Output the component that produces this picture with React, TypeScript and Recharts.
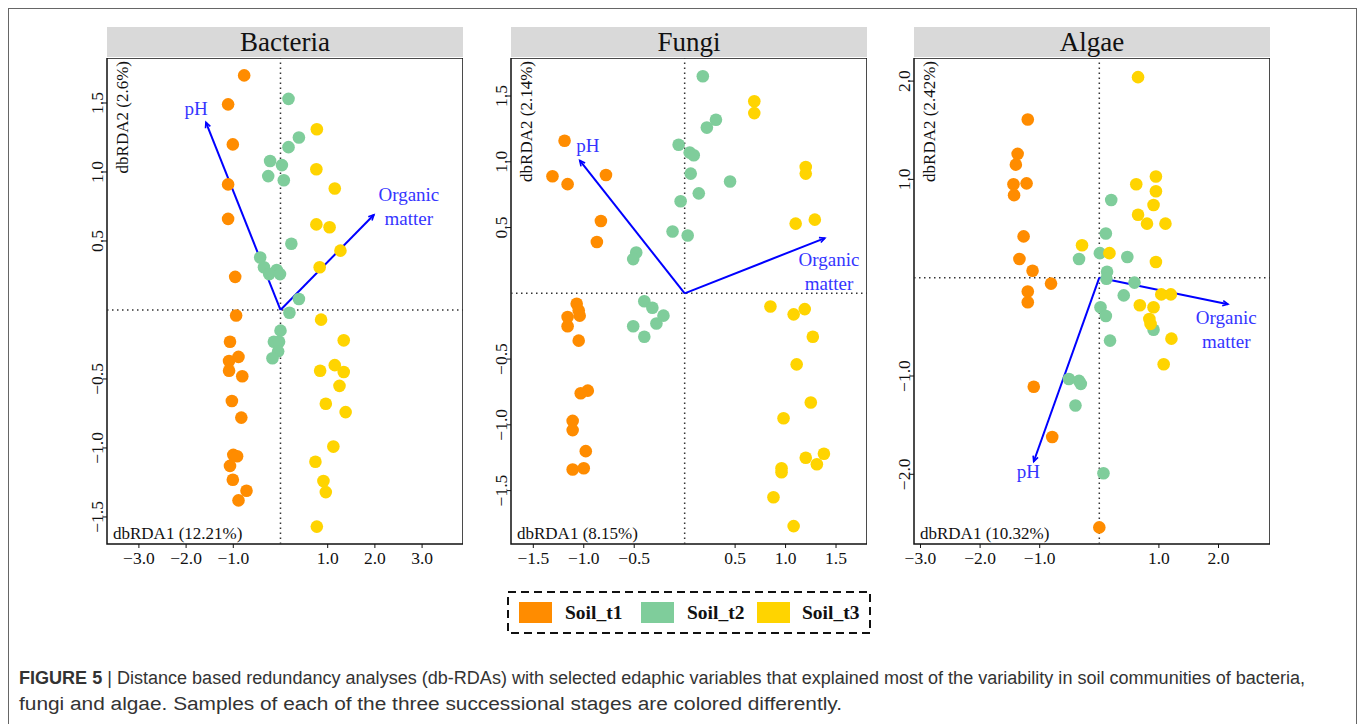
import { ScatterChart, Scatter, XAxis, YAxis, ReferenceLine, ReferenceArea } from 'recharts'

type Pt = [number, number]

const serif = '"Liberation Serif", "Times New Roman", serif'
const sans = '"Liberation Sans", Arial, sans-serif'

const groups = ['Soil_t1', 'Soil_t2', 'Soil_t3']
const groupColors = ['#FF8C00', '#7FCD9B', '#FFD400']

// Bacteria
const bacteriaT1: Pt[] = [
  [-0.77, 1.7], [-1.11, 1.49], [-1.01, 1.2], [-1.11, 0.91], [-1.11, 0.66], [-0.96, 0.24], [-0.94, -0.04],
  [-1.07, -0.23], [-0.89, -0.34], [-1.09, -0.37], [-1.09, -0.44], [-0.81, -0.48], [-1.03, -0.66], [-0.83, -0.78],
  [-1.0, -1.05], [-0.92, -1.06], [-1.07, -1.13], [-1.01, -1.23], [-0.72, -1.31], [-0.89, -1.38],
]
const bacteriaT2: Pt[] = [
  [0.17, 1.53], [0.39, 1.25], [0.17, 1.18], [-0.22, 1.08], [0.03, 1.05], [-0.26, 0.97], [0.07, 0.94],
  [0.23, 0.48], [-0.43, 0.38], [-0.35, 0.31], [-0.08, 0.29], [-0.24, 0.26], [-0.01, 0.26], [0.39, 0.08],
  [0.19, -0.02], [0.0, -0.15], [-0.14, -0.23], [-0.03, -0.23], [-0.05, -0.3], [-0.17, -0.35],
]
const bacteriaT3: Pt[] = [
  [0.77, 1.31], [0.76, 1.02], [1.15, 0.88], [0.76, 0.62], [1.04, 0.6], [1.27, 0.43], [0.83, 0.31],
  [0.86, -0.07], [1.34, -0.22], [1.15, -0.4], [1.34, -0.45], [0.84, -0.44], [1.25, -0.55], [0.96, -0.68],
  [1.38, -0.74], [1.12, -0.99], [0.74, -1.1], [0.91, -1.24], [0.96, -1.32], [0.77, -1.57],
]
const bacteriaArrows = [
  { name: 'pH', x: -1.58, y: 1.36 },
  { name: 'Organic matter', x: 1.98, y: 0.69 },
]
const bacteriaArrowText = [
  { lines: ['pH'], x: -1.79, y: 1.46 },
  { lines: ['Organic', 'matter'], x: 2.72, y: 0.83 },
]

// Fungi
const fungiT1: Pt[] = [
  [-1.19, 1.16], [-1.31, 0.89], [-1.16, 0.83], [-0.78, 0.9], [-0.83, 0.55], [-0.87, 0.39], [-1.07, -0.08],
  [-1.05, -0.13], [-1.04, -0.17], [-1.16, -0.18], [-1.16, -0.25], [-1.05, -0.36], [-0.96, -0.74], [-1.03, -0.76],
  [-1.11, -0.97], [-1.11, -1.04], [-0.98, -1.2], [-1.11, -1.34], [-1.0, -1.33],
]
const fungiT2: Pt[] = [
  [0.18, 1.65], [0.31, 1.32], [0.22, 1.26], [-0.06, 1.13], [0.05, 1.07], [0.09, 1.05], [0.06, 0.91],
  [0.45, 0.85], [0.14, 0.76], [-0.04, 0.7], [-0.12, 0.47], [0.03, 0.44], [-0.48, 0.31], [-0.51, 0.26],
  [-0.4, -0.06], [-0.32, -0.11], [-0.21, -0.17], [-0.28, -0.23], [-0.51, -0.25], [-0.4, -0.33],
]
const fungiT3: Pt[] = [
  [0.69, 1.46], [0.69, 1.37], [1.2, 0.96], [1.2, 0.91], [1.29, 0.56], [1.1, 0.53], [0.85, -0.1],
  [1.19, -0.12], [1.08, -0.16], [1.27, -0.33], [1.11, -0.54], [1.25, -0.83], [0.98, -0.95], [1.38, -1.22],
  [1.2, -1.25], [1.31, -1.3], [0.96, -1.33], [0.96, -1.36], [0.88, -1.55], [1.08, -1.77],
]
const fungiArrows = [
  { name: 'pH', x: -1.04, y: 1.01 },
  { name: 'Organic matter', x: 1.39, y: 0.42 },
]
const fungiArrowText = [
  { lines: ['pH'], x: -0.96, y: 1.12 },
  { lines: ['Organic', 'matter'], x: 1.43, y: 0.25 },
]

// Algae
const algaeT1: Pt[] = [
  [-1.2, 1.61], [-1.37, 1.26], [-1.4, 1.15], [-1.44, 0.95], [-1.22, 0.96], [-1.43, 0.84], [-1.27, 0.42],
  [-1.34, 0.19], [-1.12, 0.07], [-0.81, -0.06], [-1.2, -0.14], [-1.2, -0.25], [-1.1, -1.11], [-0.79, -1.62],
  [0.0, -2.54],
]
const algaeT2: Pt[] = [
  [0.2, 0.79], [0.11, 0.45], [-0.34, 0.19], [0.01, 0.25], [0.47, 0.21], [0.13, 0.06], [0.12, -0.01],
  [0.59, -0.05], [0.41, -0.18], [0.02, -0.3], [0.11, -0.39], [0.91, -0.53], [0.18, -0.64], [-0.51, -1.03],
  [-0.34, -1.05], [-0.31, -1.08], [-0.4, -1.3], [0.07, -1.99],
]
const algaeT3: Pt[] = [
  [0.65, 2.04], [0.95, 1.03], [0.62, 0.95], [0.95, 0.88], [0.91, 0.74], [0.65, 0.64], [0.8, 0.55],
  [1.11, 0.55], [-0.29, 0.33], [0.17, 0.25], [0.95, 0.16], [1.04, -0.17], [1.2, -0.17], [0.68, -0.28],
  [0.91, -0.3], [0.84, -0.42], [0.86, -0.47], [1.21, -0.62], [1.08, -0.88],
]
const algaeArrows = [
  { name: 'pH', x: -1.1, y: -1.87 },
  { name: 'Organic matter', x: 2.16, y: -0.27 },
]
const algaeArrowText = [
  { lines: ['pH'], x: -1.19, y: -1.98 },
  { lines: ['Organic', 'matter'], x: 2.13, y: -0.41 },
]

const ticks15 = [-1.5, -1, -0.5, 0.5, 1, 1.5]
const ticks3 = [-3, -2, -1, 1, 2, 3]
const algaeXTicks = [-3, -2, -1, 1, 2]
const algaeYTicks = [-2, -1, 1, 2]

const panels = [
  {
    title: 'Bacteria', left: 107, right: 463,
    xDomain: [-3.676, 3.867], yDomain: [-1.696, 1.826], xTicks: ticks3, yTicks: ticks15,
    xLabel: 'dbRDA1 (12.21%)', yLabel: 'dbRDA2 (2.6%)',
    sets: [bacteriaT1, bacteriaT2, bacteriaT3], arrows: bacteriaArrows, arrowText: bacteriaArrowText,
  },
  {
    title: 'Fungi', left: 511, right: 867,
    xDomain: [-1.721, 1.807], yDomain: [-1.906, 1.789], xTicks: ticks15, yTicks: ticks15,
    xLabel: 'dbRDA1 (8.15%)', yLabel: 'dbRDA2 (2.14%)',
    sets: [fungiT1, fungiT2, fungiT3], arrows: fungiArrows, arrowText: fungiArrowText,
  },
  {
    title: 'Algae', left: 914, right: 1270,
    xDomain: [-3.109, 2.864], yDomain: [-2.709, 2.235], xTicks: algaeXTicks, yTicks: algaeYTicks,
    xLabel: 'dbRDA1 (10.32%)', yLabel: 'dbRDA2 (2.42%)',
    sets: [algaeT1, algaeT2, algaeT3], arrows: algaeArrows, arrowText: algaeArrowText,
  },
]

const PLOT_TOP = 58
const PLOT_H = 486
const YW = 30
const XH = 30

const fmt = (v: number) => (v < 0 ? '\u2212' + Math.abs(v).toFixed(1) : v.toFixed(1))

const XTick = ({ x, y, payload }: any) => (
  <text x={x} y={y + 16} textAnchor="middle" fontSize={17.5} fontFamily={serif} fill="#111">
    {fmt(payload.value)}
  </text>
)

const YTick = ({ x, y, payload }: any) => (
  <text x={x} y={y} transform={`rotate(-90 ${x} ${y})`} textAnchor="middle" fontSize={17.5} fontFamily={serif} fill="#111">
    {fmt(payload.value)}
  </text>
)

const Dot = (color: string) => (p: any) => <circle cx={p.cx} cy={p.cy} r={6.3} fill={color} />

const ArrowLine = (p: any) => {
  const { x1, y1, x2, y2 } = p
  const ang = Math.atan2(y2 - y1, x2 - x1)
  const h = 6
  const a = Math.PI / 7
  const l = [x2 - h * Math.cos(ang - a), y2 - h * Math.sin(ang - a)]
  const r = [x2 - h * Math.cos(ang + a), y2 - h * Math.sin(ang + a)]
  return (
    <g>
      <line x1={x1} y1={y1} x2={x2} y2={y2} stroke="#0000FF" strokeWidth={2} />
      <polyline points={`${l[0]},${l[1]} ${x2},${y2} ${r[0]},${r[1]}`} fill="none" stroke="#0000FF" strokeWidth={1.6} />
    </g>
  )
}

const ArrowText = (p: any) => (
  <text x={p.cx} y={p.cy} textAnchor="middle" fontSize={19} fontFamily={serif} fill="#3535FF">
    {p.payload.lines.map((s: string, i: number) => (
      <tspan key={s} x={p.cx} dy={i === 0 ? 6 : 24}>
        {s}
      </tspan>
    ))}
  </text>
)

const Panel = ({ cfg }: { cfg: (typeof panels)[number] }) => {
  const w = cfg.right - cfg.left
  return (
    <>
      <div
        style={{
          position: 'absolute', left: cfg.left, top: 27, width: w, height: 30,
          background: '#D9D9D9', textAlign: 'center', fontFamily: serif, fontSize: 27, lineHeight: '31px', color: '#111',
        }}
      >
        {cfg.title}
      </div>
      <div style={{ position: 'absolute', left: cfg.left - YW, top: PLOT_TOP }}>
        <ScatterChart width={w + YW} height={PLOT_H + XH} margin={{ top: 0, right: 0, bottom: 0, left: 0 }}>
          <XAxis
            type="number" dataKey="x" domain={cfg.xDomain} allowDataOverflow ticks={cfg.xTicks} interval={0}
            height={XH} axisLine={false} tickSize={4} tickMargin={0} tickLine={{ stroke: '#111' }} tick={<XTick />}
          />
          <YAxis
            type="number" dataKey="y" domain={cfg.yDomain} allowDataOverflow ticks={cfg.yTicks} interval={0}
            width={YW} axisLine={false} tickSize={4} tickMargin={0} tickLine={{ stroke: '#111' }} tick={<YTick />}
          />
          {cfg.sets.map((s, i) => (
            <Scatter
              key={groups[i]} name={groups[i]} data={s.map(([x, y]) => ({ x, y }))}
              shape={Dot(groupColors[i])} isAnimationActive={false}
            />
          ))}
          <ReferenceLine x={0} stroke="#333" strokeWidth={1.5} strokeDasharray="1.5 3.5" />
          <ReferenceLine y={0} stroke="#333" strokeWidth={1.5} strokeDasharray="1.5 3.5" />
          {cfg.arrows.map((a) => (
            <ReferenceLine key={a.name} segment={[{ x: 0, y: 0 }, { x: a.x, y: a.y }]} shape={ArrowLine} />
          ))}
          <Scatter data={cfg.arrowText} shape={ArrowText} isAnimationActive={false} />
          <ReferenceArea
            x1={cfg.xDomain[0]} x2={cfg.xDomain[1]} y1={cfg.yDomain[0]} y2={cfg.yDomain[1]}
            fill="none" fillOpacity={0} stroke="#111" strokeWidth={1.5}
          />
        </ScatterChart>
      </div>
      <div
        style={{
          position: 'absolute', left: cfg.left + 7, top: 61, fontFamily: serif, fontSize: 17, lineHeight: '17px',
          whiteSpace: 'nowrap', transform: 'rotate(-90deg) translateX(-100%)', transformOrigin: 'top left', color: '#111',
        }}
      >
        {cfg.yLabel}
      </div>
      <div
        style={{
          position: 'absolute', left: cfg.left + 6, top: 525, fontFamily: serif, fontSize: 17, lineHeight: '17px',
          whiteSpace: 'nowrap', color: '#111',
        }}
      >
        {cfg.xLabel}
      </div>
    </>
  )
}

const legendSwatchX = [519, 641, 757]
const legendTextX = [565, 687, 802]

export default function App() {
  return (
    <div style={{ position: 'absolute', left: 0, top: 0, width: 1358, height: 724, background: '#fff', overflow: 'hidden' }}>
      <div
        style={{
          position: 'absolute', left: 8, top: 8, width: 1347, height: 740,
          borderLeft: '1px solid #666', borderTop: '1px solid #666', borderRight: '1px solid #666',
        }}
      />
      {panels.map((p) => (
        <Panel key={p.title} cfg={p} />
      ))}
      <svg style={{ position: 'absolute', left: 0, top: 0 }} width={1358} height={724}>
        <rect x={508} y={592} width={362} height={41} fill="none" stroke="#111" strokeWidth={2} strokeDasharray="8 5" />
        {groups.map((g, i) => (
          <g key={g}>
            <rect x={legendSwatchX[i]} y={602} width={33} height={21} fill={groupColors[i]} />
            <text x={legendTextX[i]} y={619} fontFamily={serif} fontWeight="bold" fontSize={19.5} fill="#111">
              {g}
            </text>
          </g>
        ))}
        <text x={19} y={684} fontFamily={sans} fontSize={18} fill="#333" textLength={1286} lengthAdjust="spacingAndGlyphs">
          <tspan fontWeight="bold">FIGURE 5</tspan>
          {' | Distance based redundancy analyses (db-RDAs) with selected edaphic variables that explained most of the variability in soil communities of bacteria,'}
        </text>
        <text x={19} y={710} fontFamily={sans} fontSize={18} fill="#333" textLength={823} lengthAdjust="spacingAndGlyphs">
          fungi and algae. Samples of each of the three successional stages are colored differently.
        </text>
      </svg>
    </div>
  )
}
